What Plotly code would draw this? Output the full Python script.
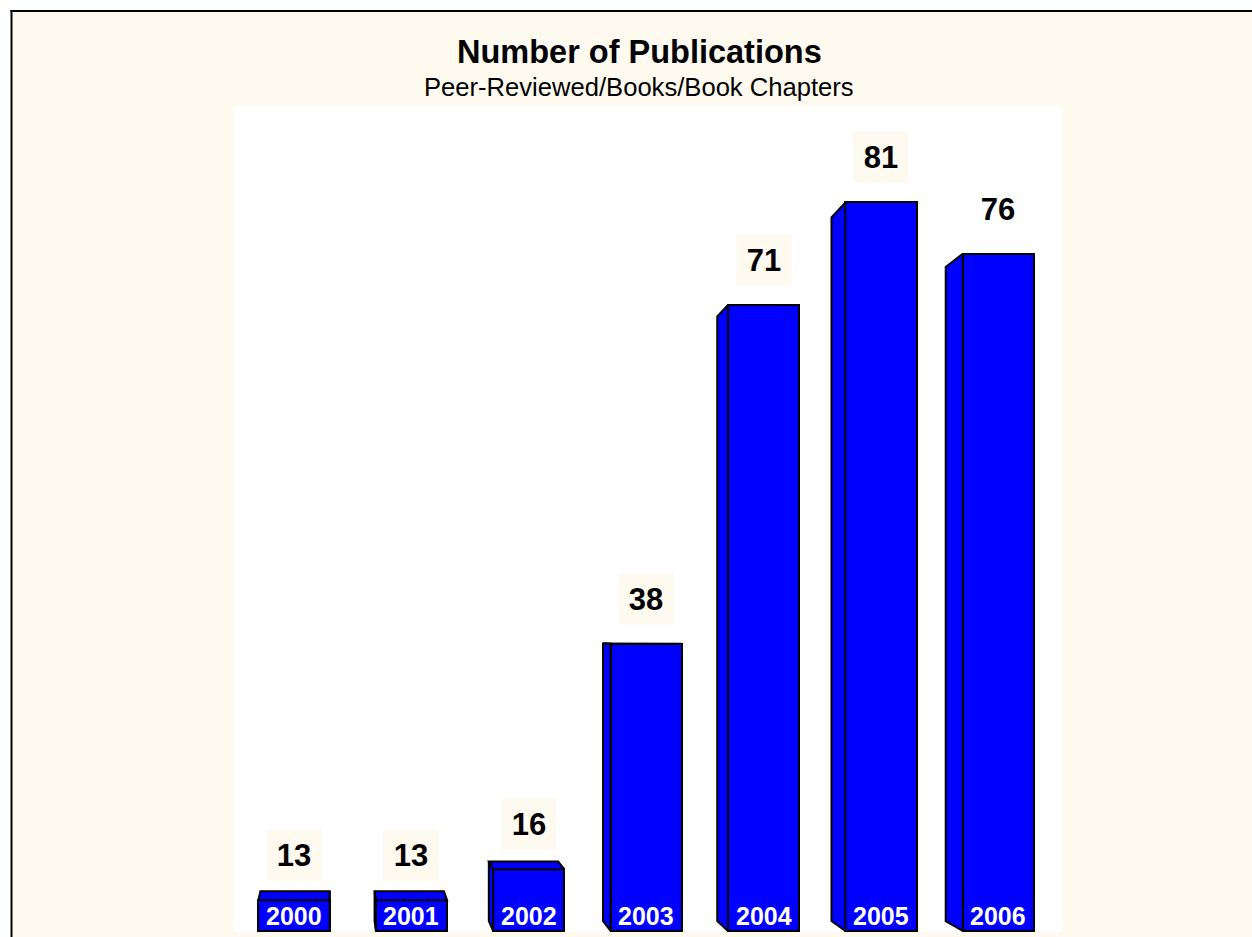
import plotly.graph_objects as go

# ---- data ----
years = ["2000", "2001", "2002", "2003", "2004", "2005", "2006"]
publications = [13, 13, 16, 38, 71, 81, 76]
show_label_box = [True, True, True, True, True, True, False]

TITLE = "Number of Publications"
SUBTITLE = "Peer-Reviewed/Books/Book Chapters"

# ---- style / geometry ----
W, H = 1252, 937
ML, MR, MT, MB = 233, 189, 106, 5
BASE = 10.0
YRANGE = [9.9, 90.4]
XRANGE = [-0.52, 6.55]
BAR_W = 0.607
BLUE = "#0000FF"
CREAM = "#FFFAF0"
FONT = "Arial, Liberation Sans, sans-serif"
# perspective (vanishing point in data coords, depth factors)
VX, VY = 0.307, 38.36
FX, FY = 0.027, 0.034

pw = W - ML - MR
ph = H - MT - MB


def px2paper_x(px):
    return (px - ML) / pw


def px2paper_y(py):
    return (H - MB - py) / ph


def back(x, y):
    return x + FX * (VX - x), y + FY * (VY - y)


pos = list(range(len(years)))

# 3-D side / top faces built from the data values
fx_pts, fy_pts = [], []
for i, v in zip(pos, publications):
    xl, xr = i - BAR_W / 2, i + BAR_W / 2
    faces = []
    if xl > VX:
        faces.append([(xl, BASE), (xl, v), back(xl, v), back(xl, BASE)])
    if xr < VX:
        faces.append([(xr, BASE), (xr, v), back(xr, v), back(xr, BASE)])
    if v < VY:
        faces.append([(xl, v), (xr, v), back(xr, v), back(xl, v)])
    for f in faces:
        for (a, b) in f + [f[0]]:
            fx_pts.append(a)
            fy_pts.append(b)
        fx_pts.append(None)
        fy_pts.append(None)

fig = go.Figure()
fig.add_trace(go.Scatter(
    x=fx_pts, y=fy_pts, mode="lines", fill="toself",
    fillcolor=BLUE, line=dict(color="black", width=2),
    hoverinfo="skip", showlegend=False,
))
fig.add_trace(go.Bar(
    x=pos, y=[v - BASE for v in publications], base=BASE, width=BAR_W,
    marker=dict(color=BLUE, line=dict(color="black", width=2)),
    showlegend=False, hoverinfo="skip",
))

annotations = []
for i, v, box in zip(pos, publications, show_label_box):
    annotations.append(dict(
        x=i, y=v, xref="x", yref="y", text=f"<b>{v}</b>", showarrow=False,
        yshift=45, font=dict(family=FONT, size=31, color="black"),
        bgcolor=CREAM if box else "rgba(0,0,0,0)", width=52, height=48,
        xanchor="center", yanchor="middle",
    ))
for i, yr in zip(pos, years):
    annotations.append(dict(
        x=i, y=BASE, xref="x", yref="y", text=f"<b>{yr}</b>", showarrow=False,
        yshift=15, font=dict(family=FONT, size=25, color="white"),
        xanchor="center", yanchor="middle",
    ))
annotations.append(dict(
    x=px2paper_x(639), y=px2paper_y(52), xref="paper", yref="paper",
    text=f"<b>{TITLE}</b>", showarrow=False,
    font=dict(family=FONT, size=32.5, color="black"),
    xanchor="center", yanchor="middle",
))
annotations.append(dict(
    x=px2paper_x(638.5), y=px2paper_y(87), xref="paper", yref="paper",
    text=SUBTITLE, showarrow=False,
    font=dict(family=FONT, size=25.6, color="black"),
    xanchor="center", yanchor="middle",
))

shapes = [
    # white strips outside the framed area
    dict(type="rect", xref="paper", yref="paper", layer="below",
         x0=px2paper_x(0), x1=px2paper_x(W), y0=px2paper_y(0), y1=px2paper_y(11),
         fillcolor="white", line=dict(width=0)),
    dict(type="rect", xref="paper", yref="paper", layer="below",
         x0=px2paper_x(0), x1=px2paper_x(11), y0=px2paper_y(0), y1=px2paper_y(H),
         fillcolor="white", line=dict(width=0)),
    # frame lines (top and left)
    dict(type="line", xref="paper", yref="paper",
         x0=px2paper_x(10.5), x1=px2paper_x(W), y0=px2paper_y(11), y1=px2paper_y(11),
         line=dict(color="black", width=2)),
    dict(type="line", xref="paper", yref="paper",
         x0=px2paper_x(11.5), x1=px2paper_x(11.5), y0=px2paper_y(10), y1=px2paper_y(H),
         line=dict(color="black", width=2)),
]

fig.update_layout(
    width=W, height=H,
    margin=dict(l=ML, r=MR, t=MT, b=MB, pad=0),
    paper_bgcolor=CREAM, plot_bgcolor="white",
    xaxis=dict(range=XRANGE, visible=False, fixedrange=True),
    yaxis=dict(range=YRANGE, visible=False, fixedrange=True),
    annotations=annotations, shapes=shapes,
    bargap=0, showlegend=False,
)

fig.write_html(
    "out.html",
    config={"displayModeBar": False},
    post_script="document.body.style.margin='0';document.body.style.overflow='hidden';",
)
